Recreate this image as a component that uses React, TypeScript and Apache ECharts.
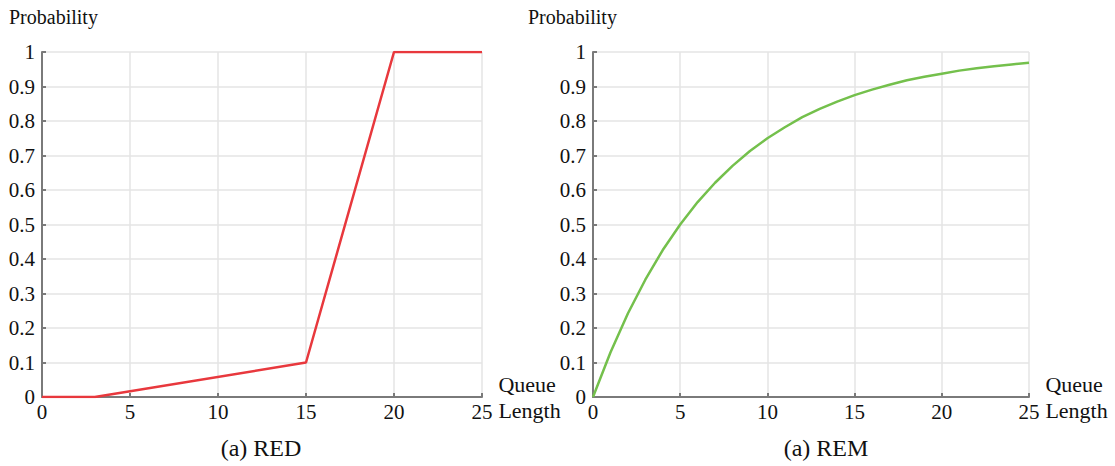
import React, { useEffect, useRef } from "react";
import * as echarts from "echarts";

const xTicks = [0, 5, 10, 15, 20, 25];
const redX = [0, 3, 15, 20, 25];
const redY = [0, 0, 0.1, 1, 1];
const remX = [0, 1, 2, 3, 4, 5, 6, 7, 8, 9, 10, 11, 12, 13, 14, 15, 16, 17, 18, 19, 20, 21, 22, 23, 24, 25];
const remY = [0, 0.129, 0.242, 0.34, 0.426, 0.5, 0.565, 0.621, 0.67, 0.713, 0.75, 0.782, 0.811, 0.835, 0.856, 0.875, 0.891, 0.905, 0.918, 0.928, 0.937, 0.946, 0.953, 0.959, 0.964, 0.969];
const titles = ["(a) RED", "(a) REM"];
const yName = "Probability";
const xName = "Queue\nLength";

const FONT = "'Liberation Serif', 'DejaVu Serif', serif";

export default function App() {
  const ref = useRef<HTMLDivElement>(null);
  useEffect(() => {
    if (!ref.current) return;
    const chart = echarts.init(ref.current, undefined, { renderer: "svg" });
    const grids = [
      { left: 42, right: 633, top: 52, bottom: 69 },
      { left: 593, right: 86, top: 52, bottom: 69 },
    ];
    const mkX = (i: number) => ({
      type: "value",
      gridIndex: i,
      min: 0,
      max: 25,
      interval: 5,
      name: xName,
      nameLocation: "end",
      nameGap: 8,
      nameTextStyle: { fontFamily: FONT, fontSize: 22, color: "#111", lineHeight: 26, align: "left", verticalAlign: "middle" },
      axisLine: { show: true, onZero: false, lineStyle: { color: "#7a7a7a", width: 2 } },
      axisTick: { show: true, inside: true, length: 4, lineStyle: { color: "#7a7a7a", width: 2 } },
      axisLabel: { fontFamily: FONT, fontSize: 21, color: "#111", margin: 4 },
      splitLine: { show: true, lineStyle: { color: "#e4e4e4", width: 1.5 } },
    });
    const mkY = (i: number) => ({
      type: "value",
      gridIndex: i,
      min: 0,
      max: 1,
      interval: 0.1,
      axisLine: { show: true, onZero: false, lineStyle: { color: "#7a7a7a", width: 2 } },
      axisTick: { show: true, inside: true, length: 4, lineStyle: { color: "#7a7a7a", width: 2 } },
      axisLabel: { fontFamily: FONT, fontSize: 21, color: "#111", margin: 7 },
      splitLine: { show: true, lineStyle: { color: "#e4e4e4", width: 1.5 } },
    });
    chart.setOption({
      animation: false,
      backgroundColor: "#fff",
      title: [
        { text: titles[0], left: 261, top: 434, padding: 0, textAlign: "center", textStyle: { fontFamily: FONT, fontSize: 24, lineHeight: 28, fontWeight: "normal", color: "#111" } },
        { text: titles[1], left: 826, top: 434, padding: 0, textAlign: "center", textStyle: { fontFamily: FONT, fontSize: 24, lineHeight: 28, fontWeight: "normal", color: "#111" } },
      ],
      graphic: [
        { type: "text", left: 9, top: 7, style: { text: yName, fontFamily: FONT, fontSize: 20, fill: "#111" } },
        { type: "text", left: 528, top: 7, style: { text: yName, fontFamily: FONT, fontSize: 20, fill: "#111" } },
      ],
      grid: grids,
      xAxis: [mkX(0), mkX(1)],
      yAxis: [mkY(0), mkY(1)],
      series: [
        {
          type: "line",
          xAxisIndex: 0,
          yAxisIndex: 0,
          data: redX.map((x, i) => [x, redY[i]]),
          showSymbol: false,
          lineStyle: { color: "#e8383d", width: 2.5 },
          z: 5,
        },
        {
          type: "line",
          xAxisIndex: 1,
          yAxisIndex: 1,
          data: remX.map((x, i) => [x, remY[i]]),
          showSymbol: false,
          smooth: false,
          lineStyle: { color: "#74c04c", width: 2.5, join: "round" },
          z: 5,
        },
      ],
    });
    return () => chart.dispose();
  }, []);
  return <div ref={ref} style={{ position: "absolute", left: 0, top: 0, width: 1115, height: 466 }} />;
}
